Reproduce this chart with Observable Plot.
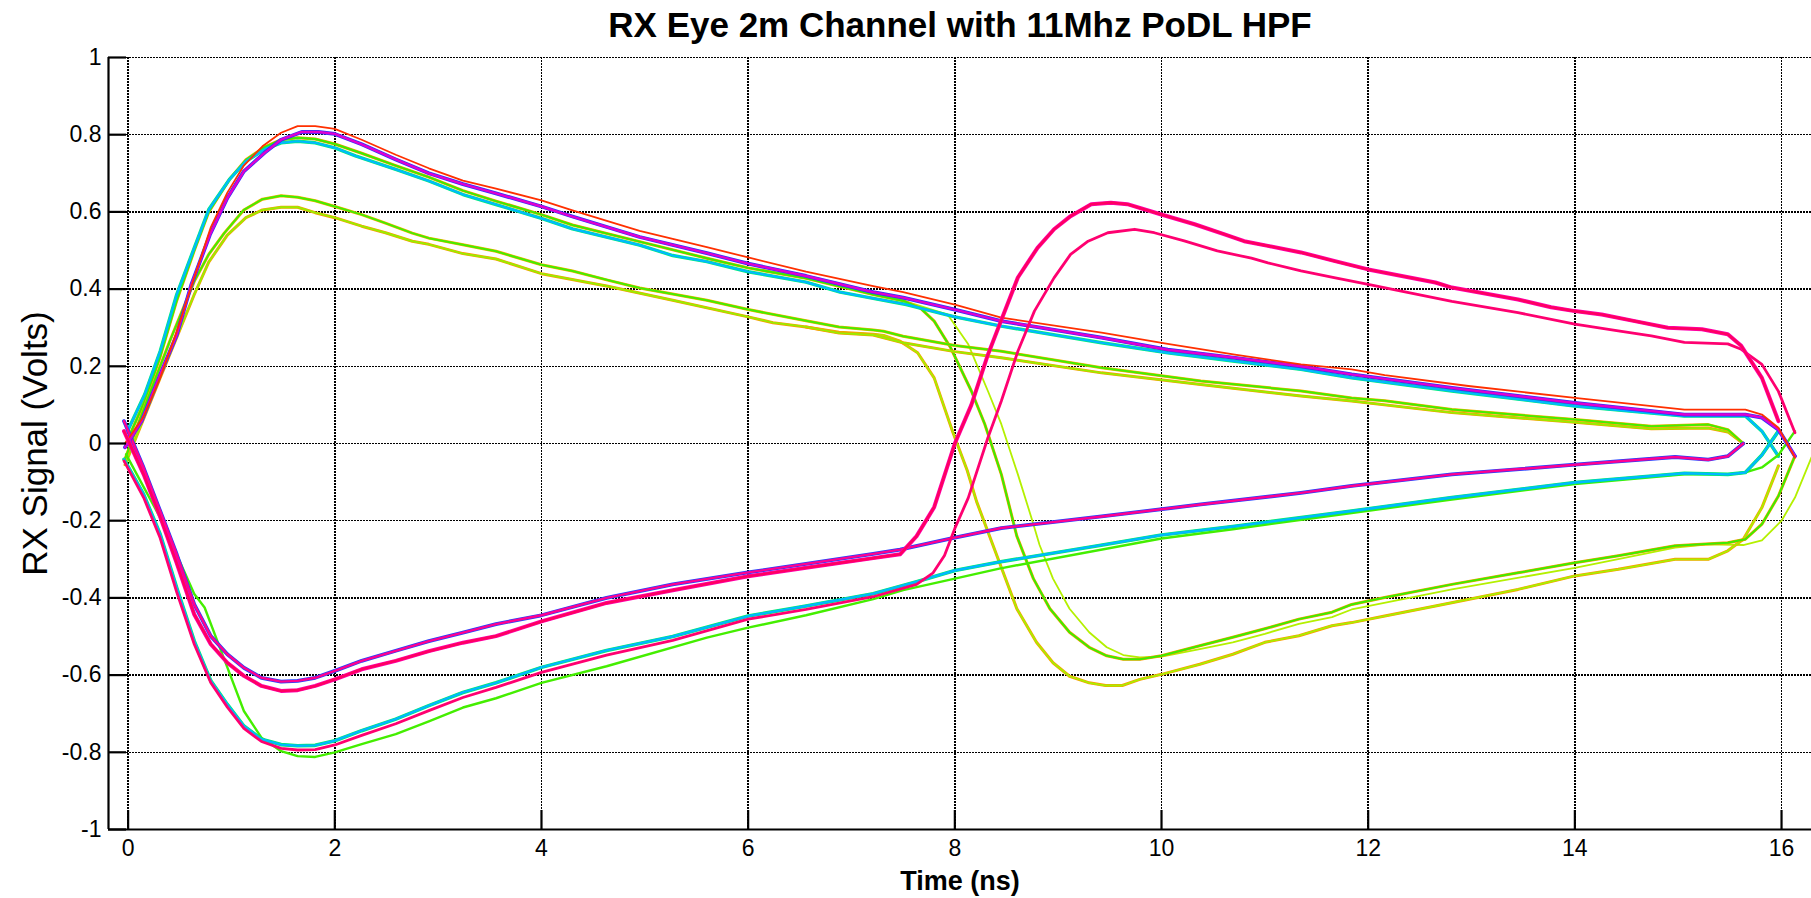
<!DOCTYPE html>
<html>
<head>
<meta charset="utf-8">
<script src="https://cdn.jsdelivr.net/npm/d3@7"></script>
<script src="https://cdn.jsdelivr.net/npm/@observablehq/plot@0.6"></script>
<style>
  html, body { margin: 0; padding: 0; background: #fff; }
  #chart { width: 1811px; height: 898px; }
</style>
</head>
<body>
<div id="chart"></div>
<script>
// ---- Text ----
const titleText = "RX Eye 2m Channel with 11Mhz PoDL HPF";
const xLabelText = "Time (ns)";
const yLabelText = "RX Signal (Volts)";

// ---- Axis ticks ----
const xTicks = [0, 2, 4, 6, 8, 10, 12, 14, 16];
const yTicks = [-1, -0.8, -0.6, -0.4, -0.2, 0, 0.2, 0.4, 0.6, 0.8, 1];
const xDomain = [-0.19, 16.29];
const yDomain = [-1, 1];

// ---- Traces [time ns, volts] ----
const aRed = [[-0.03,0.0],[0.15,0.07],[0.31,0.17],[0.47,0.29],[0.64,0.43],[0.8,0.56],[0.96,0.65],[1.12,0.72],[1.3,0.77],[1.48,0.805],[1.64,0.822],[1.81,0.822],[2.0,0.815],[2.26,0.787],[2.59,0.748],[2.91,0.713],[3.24,0.681],[3.56,0.66],[4.0,0.63],[4.3,0.604],[4.95,0.551],[5.27,0.53],[5.6,0.509],[6.0,0.482],[6.56,0.445],[7.21,0.408],[7.5,0.392],[8.0,0.36],[8.45,0.326],[9.42,0.287],[10.06,0.258],[10.71,0.23],[11.35,0.205],[11.84,0.192],[12.16,0.177],[12.97,0.149],[14.0,0.118],[15.06,0.088],[15.65,0.088],[15.81,0.075],[15.97,0.041],[16.13,-0.037]];

const aMain = [[-0.03,-0.01],[0.13,0.058],[0.31,0.178],[0.47,0.281],[0.61,0.41],[0.79,0.54],[0.96,0.636],[1.12,0.705],[1.32,0.753],[1.48,0.787],[1.68,0.807],[1.84,0.807],[2.0,0.802],[2.26,0.775],[2.59,0.736],[2.91,0.7],[3.24,0.672],[3.56,0.648],[4.0,0.614],[4.3,0.588],[4.95,0.535],[5.6,0.493],[6.0,0.466],[6.56,0.434],[7.21,0.392],[7.5,0.378],[8.0,0.347],[8.45,0.317],[9.42,0.274],[10.06,0.243],[10.71,0.222],[11.35,0.2],[11.84,0.179],[12.81,0.144],[14.0,0.105],[15.06,0.075],[15.65,0.075],[15.81,0.067],[15.97,0.036],[16.13,-0.033]];

const bCyan = [[-0.01,0.03],[0.16,0.127],[0.31,0.239],[0.47,0.386],[0.64,0.507],[0.78,0.606],[0.98,0.684],[1.14,0.731],[1.32,0.762],[1.48,0.779],[1.64,0.783],[1.81,0.779],[2.0,0.766],[2.2,0.745],[2.59,0.71],[2.91,0.68],[3.24,0.645],[3.56,0.619],[4.0,0.583],[4.3,0.556],[4.95,0.514],[5.27,0.487],[5.6,0.471],[6.0,0.445],[6.56,0.418],[6.89,0.392],[7.21,0.376],[7.53,0.36],[8.0,0.328],[8.45,0.304],[9.42,0.261],[10.06,0.235],[10.71,0.213],[11.35,0.192],[11.84,0.17],[12.81,0.136],[14.0,0.097],[15.06,0.071],[15.65,0.071],[15.81,0.032],[15.97,-0.033]];

const bGreenFall = [[-0.02,0.0],[0.16,0.11],[0.31,0.225],[0.47,0.37],[0.64,0.5],[0.78,0.6],[0.98,0.684],[1.14,0.735],[1.32,0.768],[1.48,0.787],[1.64,0.792],[1.81,0.789],[2.0,0.776],[2.26,0.752],[2.59,0.72],[2.91,0.69],[3.24,0.655],[3.56,0.628],[4.0,0.593],[4.3,0.566],[4.95,0.523],[5.6,0.48],[6.0,0.455],[6.56,0.428],[7.21,0.386],[7.5,0.37],[7.67,0.35],[7.8,0.317],[7.96,0.248],[8.16,0.136],[8.29,0.05],[8.45,-0.08],[8.6,-0.24],[8.76,-0.35],[8.92,-0.428],[9.11,-0.489],[9.3,-0.528],[9.47,-0.55],[9.63,-0.559],[9.79,-0.559],[10.0,-0.55],[10.37,-0.524],[10.69,-0.502],[11.0,-0.48],[11.33,-0.455],[11.65,-0.437],[11.84,-0.417],[12.16,-0.399],[12.81,-0.365],[13.45,-0.335],[14.0,-0.309],[14.42,-0.291],[14.97,-0.265],[15.48,-0.257],[15.65,-0.248],[15.81,-0.209],[15.97,-0.136],[16.13,-0.032]];

const cGreen = [[-0.03,-0.04],[0.18,0.11],[0.41,0.27],[0.64,0.42],[0.78,0.49],[0.93,0.545],[1.12,0.605],[1.3,0.633],[1.48,0.642],[1.64,0.638],[1.81,0.629],[2.0,0.614],[2.26,0.593],[2.49,0.571],[2.75,0.545],[2.91,0.532],[3.24,0.515],[3.56,0.498],[4.0,0.463],[4.3,0.447],[4.63,0.424],[4.95,0.403],[5.6,0.371],[6.0,0.347],[6.56,0.318],[6.88,0.302],[7.21,0.294],[7.31,0.291],[7.5,0.278],[8.0,0.254],[8.45,0.239],[9.42,0.196],[10.38,0.162],[11.35,0.136],[11.84,0.118],[12.16,0.111],[12.81,0.088],[14.0,0.062],[14.74,0.045],[15.29,0.049],[15.48,0.036],[15.63,0.0]];

const cLow = [[-0.03,-0.055],[0.31,0.17],[0.64,0.386],[0.78,0.47],[0.96,0.54],[1.14,0.585],[1.3,0.605],[1.48,0.612],[1.64,0.612],[1.81,0.598],[2.0,0.585],[2.26,0.563],[2.49,0.546],[2.75,0.524],[2.91,0.516],[3.24,0.492],[3.56,0.478],[4.0,0.44],[4.63,0.408],[5.27,0.371],[6.0,0.328],[6.24,0.313],[6.56,0.302],[6.88,0.286],[7.21,0.281],[7.5,0.261],[8.0,0.238],[8.45,0.222],[9.42,0.183],[10.38,0.153],[11.35,0.123],[11.84,0.11],[12.81,0.08],[14.0,0.055],[14.74,0.038],[15.29,0.04],[15.48,0.03],[15.63,0.0]];

const cFallDeep = [[6.56,0.302],[6.88,0.288],[7.21,0.283],[7.31,0.28],[7.47,0.265],[7.64,0.235],[7.8,0.17],[7.98,0.03],[8.12,-0.07],[8.21,-0.15],[8.43,-0.307],[8.6,-0.428],[8.79,-0.515],[8.95,-0.568],[9.11,-0.603],[9.3,-0.62],[9.46,-0.627],[9.62,-0.627],[9.79,-0.611],[10.0,-0.598],[10.37,-0.572],[10.69,-0.546],[11.0,-0.515],[11.33,-0.498],[11.65,-0.472],[11.84,-0.464],[12.16,-0.447],[12.65,-0.421],[13.45,-0.378],[14.0,-0.343],[14.42,-0.326],[14.97,-0.3],[15.29,-0.3],[15.48,-0.278],[15.63,-0.248],[15.81,-0.166],[15.97,-0.058]];

const bFallLate = [[7.5,0.37],[7.8,0.345],[7.93,0.334],[8.13,0.257],[8.32,0.136],[8.45,0.05],[8.61,-0.08],[8.75,-0.2],[8.82,-0.263],[8.95,-0.35],[9.11,-0.428],[9.3,-0.489],[9.47,-0.528],[9.63,-0.548],[9.79,-0.554],[10.0,-0.552],[10.37,-0.533],[10.69,-0.515],[11.0,-0.493],[11.33,-0.467],[11.65,-0.45],[11.84,-0.43],[12.81,-0.378],[14.0,-0.322],[14.97,-0.27],[15.29,-0.261],[15.63,-0.263],[15.81,-0.251],[16.0,-0.2],[16.13,-0.14],[16.29,-0.036]];

const dMain = [[-0.04,0.058],[0.15,-0.063],[0.31,-0.175],[0.47,-0.287],[0.64,-0.417],[0.8,-0.499],[0.96,-0.546],[1.12,-0.581],[1.29,-0.607],[1.48,-0.617],[1.64,-0.615],[1.81,-0.607],[2.0,-0.589],[2.26,-0.563],[2.59,-0.537],[2.91,-0.512],[3.24,-0.49],[3.56,-0.468],[4.0,-0.445],[4.63,-0.4],[5.27,-0.365],[6.0,-0.334],[6.56,-0.312],[7.21,-0.286],[7.47,-0.275],[8.0,-0.244],[8.45,-0.219],[9.42,-0.189],[10.38,-0.158],[11.35,-0.128],[11.84,-0.11],[12.81,-0.08],[14.0,-0.055],[14.97,-0.035],[15.29,-0.042],[15.48,-0.033],[15.63,0.0]];

const dRise = [[-0.04,0.032],[0.15,-0.08],[0.31,-0.19],[0.47,-0.31],[0.64,-0.443],[0.8,-0.52],[0.96,-0.568],[1.12,-0.602],[1.29,-0.628],[1.48,-0.641],[1.64,-0.639],[1.81,-0.628],[2.0,-0.611],[2.26,-0.585],[2.59,-0.563],[2.91,-0.538],[3.24,-0.516],[3.56,-0.499],[4.0,-0.461],[4.63,-0.413],[5.27,-0.38],[6.0,-0.344],[6.56,-0.322],[7.21,-0.297],[7.47,-0.287],[7.63,-0.24],[7.8,-0.165],[8.0,0.0],[8.16,0.1],[8.32,0.23],[8.45,0.32],[8.61,0.43],[8.8,0.507],[8.96,0.555],[9.12,0.589],[9.32,0.62],[9.51,0.624],[9.67,0.62],[9.99,0.594],[10.32,0.568],[10.61,0.542],[10.8,0.524],[11.03,0.512],[11.35,0.495],[11.67,0.473],[12.0,0.451],[12.65,0.417],[12.81,0.404],[13.45,0.373],[13.77,0.353],[14.0,0.343],[14.26,0.334],[14.58,0.317],[14.9,0.3],[15.23,0.296],[15.48,0.283],[15.61,0.253],[15.81,0.17],[15.97,0.058]];

const eMain = [[-0.04,-0.041],[0.15,-0.132],[0.31,-0.235],[0.47,-0.374],[0.64,-0.512],[0.8,-0.615],[0.96,-0.676],[1.12,-0.732],[1.29,-0.766],[1.48,-0.78],[1.64,-0.783],[1.81,-0.782],[2.0,-0.77],[2.26,-0.744],[2.59,-0.714],[2.91,-0.679],[3.24,-0.645],[3.56,-0.62],[4.0,-0.58],[4.63,-0.536],[5.27,-0.5],[6.0,-0.447],[6.56,-0.421],[7.21,-0.389],[7.63,-0.358],[8.0,-0.329],[8.43,-0.307],[9.4,-0.264],[10.0,-0.237],[10.69,-0.215],[11.84,-0.175],[12.81,-0.14],[14.0,-0.101],[15.06,-0.077],[15.48,-0.08],[15.65,-0.075],[15.81,-0.03],[15.97,0.032]];

const eRise = [[-0.04,-0.045],[0.15,-0.14],[0.31,-0.245],[0.47,-0.385],[0.64,-0.52],[0.8,-0.62],[0.96,-0.683],[1.12,-0.738],[1.29,-0.772],[1.48,-0.79],[1.64,-0.794],[1.81,-0.793],[2.0,-0.781],[2.26,-0.756],[2.59,-0.726],[2.91,-0.692],[3.24,-0.658],[3.56,-0.632],[4.0,-0.593],[4.63,-0.548],[5.27,-0.51],[6.0,-0.455],[6.56,-0.43],[7.21,-0.397],[7.63,-0.365],[7.79,-0.335],[7.9,-0.29],[8.0,-0.22],[8.13,-0.141],[8.32,0.015],[8.45,0.11],[8.61,0.239],[8.77,0.343],[8.96,0.429],[9.12,0.49],[9.29,0.524],[9.48,0.546],[9.74,0.555],[9.93,0.546],[10.22,0.525],[10.54,0.499],[10.87,0.48],[11.03,0.468],[11.35,0.447],[11.67,0.43],[12.0,0.412],[12.32,0.395],[12.81,0.368],[13.45,0.339],[14.0,0.309],[14.42,0.292],[14.74,0.279],[15.06,0.262],[15.48,0.258],[15.61,0.244],[15.81,0.205],[15.97,0.135],[16.13,0.028]];

const eGreen = [[-0.02,-0.028],[0.31,-0.192],[0.64,-0.39],[0.74,-0.425],[0.96,-0.58],[1.12,-0.693],[1.29,-0.762],[1.48,-0.797],[1.64,-0.81],[1.81,-0.812],[2.0,-0.8],[2.26,-0.779],[2.59,-0.753],[2.91,-0.72],[3.24,-0.684],[3.56,-0.66],[4.0,-0.62],[4.63,-0.577],[5.6,-0.503],[6.0,-0.477],[6.56,-0.445],[7.21,-0.403],[7.5,-0.38],[8.0,-0.35],[8.43,-0.324],[10.0,-0.246],[10.69,-0.222],[11.84,-0.18],[12.81,-0.145],[14.0,-0.105],[15.06,-0.08],[15.48,-0.08],[15.65,-0.075],[15.81,-0.062],[15.97,-0.03],[16.13,0.032]];

// ---- Drawing order and colour layers (bottom to top) ----
const traceStyles = [
  [bFallLate, [["#b4f000", 1.8]]],
  [cFallDeep, [["#ff9900", 3.0], ["#a8f000", 1.8]]],
  [bGreenFall, [["#ff9900", 3.0], ["#3cee00", 2.0]]],
  [cLow, [["#ff9900", 3.0], ["#99ee00", 1.9]]],
  [cGreen, [["#ffaa00", 3.0], ["#44ee00", 2.0]]],
  [bCyan, [["#00ee77", 3.4], ["#00b8ff", 2.2]]],
  [eGreen, [["#44ee00", 2.4]]],
  [eMain, [["#00ee66", 3.6], ["#00b8ff", 2.4]]],
  [dMain, [["#2040ff", 3.8], ["#ff0090", 2.4]]],
  [aMain, [["#2a30ff", 3.8], ["#e000d0", 2.4]]],
  [aRed, [["#ff3000", 1.8]]],
  [eRise, [["#ff0070", 2.8]]],
  [dRise, [["#ff00b0", 4.0], ["#ff0060", 2.6]]]
];

const W = 1811, H = 898;
const mL = 108, mR = 0, mT = 57, mB = 69;
const plotW = W - mL - mR, plotH = H - mT - mB;
const font = "'Liberation Sans', Arial, Helvetica, sans-serif";

const lineMarks = [];
for (const [pts, layers] of traceStyles) {
  for (const [color, w] of layers) {
    lineMarks.push(Plot.line(pts, {
      x: d => d[0], y: d => d[1], stroke: color, strokeWidth: w,
      strokeLinejoin: "round", strokeLinecap: "round", clip: true
    }));
  }
}

const gridStyle = { stroke: "#000", strokeWidth: 1.5, strokeDasharray: "1.5,1.5", shapeRendering: "crispEdges" };

const chart = Plot.plot({
  width: W, height: H,
  marginLeft: mL, marginRight: mR, marginTop: mT, marginBottom: mB,
  style: { fontFamily: font, background: "#fff", color: "#000", overflow: "visible" },
  x: { domain: xDomain, label: null },
  y: { domain: yDomain, label: null },
  marks: [
    Plot.ruleX(xTicks, gridStyle),
    Plot.ruleY(yTicks, gridStyle),
    ...lineMarks,
    Plot.ruleX([xDomain[0]], { stroke: "#000", strokeWidth: 2.2 }),
    Plot.ruleY([yDomain[0]], { stroke: "#000", strokeWidth: 2.2 }),
    Plot.tickY(yTicks, { y: d => d, insetRight: plotW - 18, stroke: "#000", strokeWidth: 2.2 }),
    Plot.tickX(xTicks, { x: d => d, insetTop: plotH - 19, stroke: "#000", strokeWidth: 2.2 }),
    Plot.axisX({ ticks: xTicks, tickFormat: d => String(d), tickSize: 0, tickPadding: 10, fontSize: 23, label: null }),
    Plot.axisY({ ticks: yTicks, tickFormat: d => String(d), tickSize: 0, tickPadding: 7, fontSize: 23, label: null }),
    Plot.text([titleText], { text: d => d, frameAnchor: "top", dy: -32, lineAnchor: "middle", textAnchor: "middle", fontSize: 35, fontWeight: "bold", fill: "#000" }),
    Plot.text([xLabelText], { text: d => d, frameAnchor: "bottom", dy: 52, lineAnchor: "middle", textAnchor: "middle", fontSize: 27, fontWeight: "bold", fill: "#000" }),
    Plot.text([yLabelText], { text: d => d, frameAnchor: "left", dx: -73, rotate: -90, lineAnchor: "middle", textAnchor: "middle", fontSize: 35, fill: "#000" })
  ]
});

document.getElementById("chart").appendChild(chart);
</script>
</body>
</html>
